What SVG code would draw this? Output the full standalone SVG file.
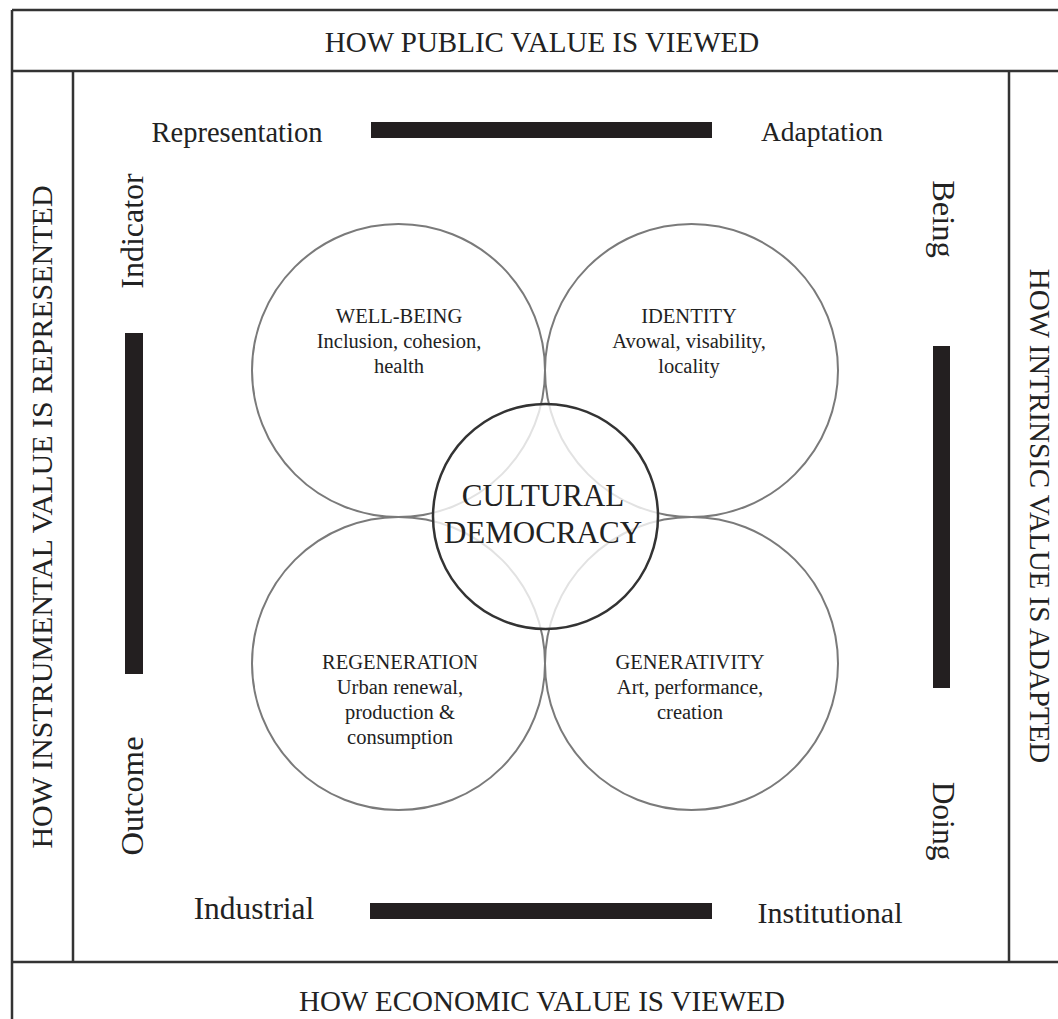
<svg xmlns="http://www.w3.org/2000/svg" width="1058" height="1019" viewBox="0 0 1058 1019">
<style>
  text { font-family: "Liberation Serif", "Times New Roman", serif; fill: #222; }
  .title { font-size: 29px; text-anchor: middle; }
  .lbl { text-anchor: middle; }
  .frame { stroke: #333; stroke-width: 2.5; fill: none; }
  .bar { fill: #231f20; }
  .petal { fill: none; stroke: #7a7a7a; stroke-width: 2; }
  .core { fill: #ffffff; fill-opacity: 0.78; stroke: #333; stroke-width: 2.5; }
  .ctext { font-size: 20.5px; text-anchor: middle; }
  .big { font-size: 31px; text-anchor: middle; }
</style>
<rect x="0" y="0" width="1058" height="1019" fill="#ffffff"/>

<g id="frame">
  <line class="frame" x1="12" y1="10" x2="1060" y2="10"/>
  <line class="frame" x1="12" y1="10" x2="12" y2="1022"/>
  <line class="frame" x1="12" y1="71" x2="1060" y2="71"/>
  <line class="frame" x1="12" y1="962" x2="1060" y2="962"/>
  <line class="frame" x1="73" y1="71" x2="73" y2="962"/>
  <line class="frame" x1="1009" y1="71" x2="1009" y2="962"/>
</g>

<g id="titles">
  <text class="title" x="542" y="52">HOW PUBLIC VALUE IS VIEWED</text>
  <text class="title" x="542" y="1011">HOW ECONOMIC VALUE IS VIEWED</text>
  <text class="title" font-size="30" style="font-size:30px" transform="translate(52,517) rotate(-90)" x="0" y="0">HOW INSTRUMENTAL VALUE IS REPRESENTED</text>
  <text class="title" transform="translate(1030,516) rotate(90)" x="0" y="0">HOW INTRINSIC VALUE IS ADAPTED</text>
</g>

<g id="connectors">
  <rect class="bar" x="371" y="122" width="341" height="16"/>
  <rect class="bar" x="370" y="903" width="342" height="16"/>
  <rect class="bar" x="125" y="333" width="18" height="341"/>
  <rect class="bar" x="933" y="346" width="17" height="342"/>
</g>

<g id="axis-labels">
  <text class="lbl" x="237" y="142" font-size="28.5">Representation</text>
  <text class="lbl" x="822" y="141" font-size="27.5">Adaptation</text>
  <text class="lbl" x="254" y="919" font-size="31.5">Industrial</text>
  <text class="lbl" x="830" y="923" font-size="30">Institutional</text>
  <text class="lbl" font-size="32" transform="translate(143,231) rotate(-90)" x="0" y="0">Indicator</text>
  <text class="lbl" font-size="32.5" transform="translate(143,796) rotate(-90)" x="0" y="0">Outcome</text>
  <text class="lbl" font-size="32.5" transform="translate(933,219) rotate(90)" x="0" y="0">Being</text>
  <text class="lbl" font-size="31.5" transform="translate(933,821) rotate(90)" x="0" y="0">Doing</text>
</g>

<g id="well-being">
  <circle class="petal" cx="398.5" cy="370.5" r="146.5"/>
</g>
<g id="identity">
  <circle class="petal" cx="691.5" cy="370.5" r="146.5"/>
</g>
<g id="regeneration">
  <circle class="petal" cx="398.5" cy="663.5" r="146.5"/>
</g>
<g id="generativity">
  <circle class="petal" cx="691.5" cy="663.5" r="146.5"/>
</g>

<g id="cultural-democracy">
  <circle class="core" cx="545.5" cy="516.5" r="112.5"/>
  <text class="big" x="543" y="506">CULTURAL</text>
  <text class="big" x="543" y="543">DEMOCRACY</text>
</g>

<g id="well-being-text">
  <text class="ctext" x="399" y="323">WELL-BEING</text>
  <text class="ctext" x="399" y="348">Inclusion, cohesion,</text>
  <text class="ctext" x="399" y="373">health</text>
</g>
<g id="identity-text">
  <text class="ctext" x="689" y="323">IDENTITY</text>
  <text class="ctext" x="689" y="348">Avowal, visability,</text>
  <text class="ctext" x="689" y="373">locality</text>
</g>
<g id="regeneration-text">
  <text class="ctext" x="400" y="669">REGENERATION</text>
  <text class="ctext" x="400" y="694">Urban renewal,</text>
  <text class="ctext" x="400" y="719">production &amp;</text>
  <text class="ctext" x="400" y="744">consumption</text>
</g>
<g id="generativity-text">
  <text class="ctext" x="690" y="669">GENERATIVITY</text>
  <text class="ctext" x="690" y="694">Art, performance,</text>
  <text class="ctext" x="690" y="719">creation</text>
</g>
</svg>
